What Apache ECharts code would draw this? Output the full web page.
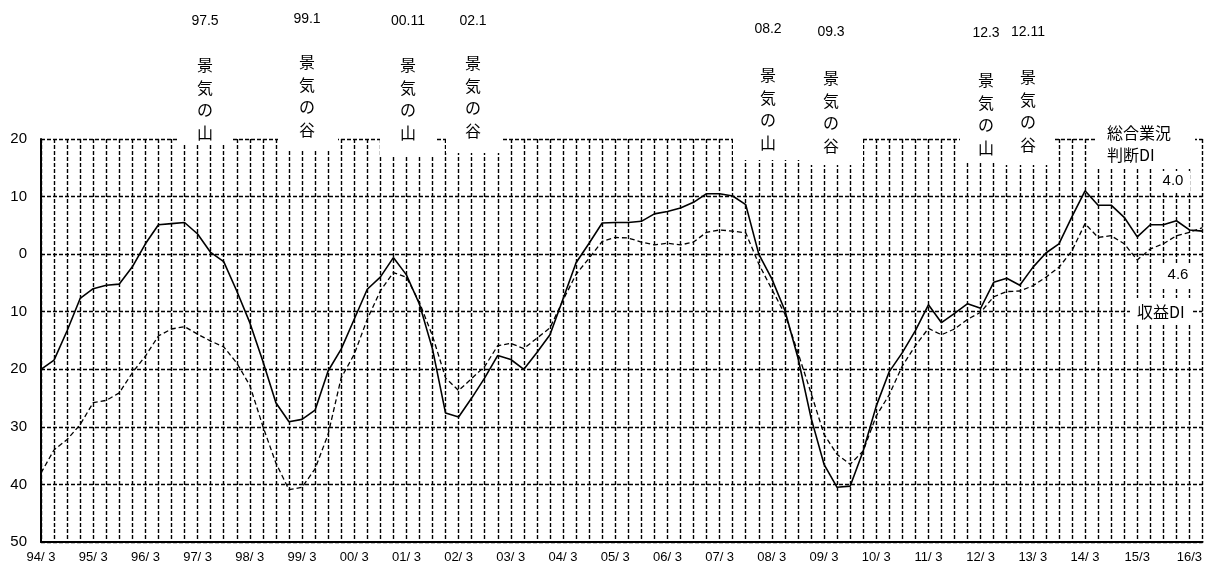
<!DOCTYPE html>
<html>
<head>
<meta charset="utf-8">
<script src="https://cdn.jsdelivr.net/npm/echarts@6/dist/echarts.min.js"></script>
<style>
  html, body { margin: 0; padding: 0; background: #fff; }
  #chart { width: 1207px; height: 567px; }
</style>
</head>
<body>
<div id="chart"></div>
<script>
// Quarterly survey, 94/3 through 16/6
const years = ['94','95','96','97','98','99','00','01','02','03','04','05','06','07','08','09','10','11','12','13','14','15','16'];
const months = ['3','6','9','12'];
const categories = [];
years.forEach(function (y) {
  months.forEach(function (m) {
    if (!(y === '16' && (m === '9' || m === '12'))) categories.push(y + '/' + m);
  });
});

// Labels shown under every March tick
const tickLabels = ['94/ 3','95/ 3','96/ 3','97/ 3','98/ 3','99/ 3','00/ 3','01/ 3','02/ 3','03/ 3','04/ 3',
  '05/ 3','06/ 3','07/ 3','08/ 3','09/ 3','10/ 3','11/ 3','12/ 3','13/ 3','14/ 3','15/3','16/3'];

// 総合業況判断DI
const businessDI = [
  -20.0, -18.4, -13.3, -7.7, -6.0, -5.4, -5.2, -2.2, 1.8, 5.1,
  5.3, 5.5, 3.5, 0.3, -1.3, -6.4, -11.9, -18.6, -25.8, -29.1,
  -28.7, -27.1, -20.3, -16.5, -11.3, -6.1, -4.0, -0.6, -3.6, -8.7,
  -16.5, -27.6, -28.3, -25.0, -21.5, -17.6, -18.3, -20.0, -17.1, -14.0,
  -7.8, -1.5, 1.9, 5.4, 5.5, 5.5, 5.7, 7.0, 7.4, 8.0,
  9.0, 10.5, 10.5, 10.1, 8.6, 0.0, -4.3, -9.8, -18.0, -28.4,
  -36.5, -40.5, -40.3, -34.2, -26.4, -20.4, -17.1, -13.3, -8.8, -11.9,
  -10.3, -8.6, -9.4, -4.9, -4.2, -5.4, -2.3, 0.2, 1.8, 6.5,
  11.0, 8.5, 8.5, 6.4, 3.0, 5.1, 5.1, 5.8, 4.2, 4.0
];

// 収益DI
const profitDI = [
  -38.0, -34.0, -32.2, -29.6, -25.8, -25.4, -24.1, -20.6, -17.7, -14.2,
  -13.0, -12.6, -13.9, -15.1, -16.1, -18.9, -22.8, -29.9, -36.3, -40.9,
  -40.5, -37.3, -31.3, -21.5, -17.4, -11.3, -6.4, -3.2, -4.0, -8.4,
  -14.2, -21.5, -23.7, -21.6, -19.5, -15.9, -15.5, -16.4, -14.6, -12.8,
  -8.0, -3.5, -0.7, 2.2, 2.9, 2.8, 2.1, 1.6, 1.9, 1.6,
  2.1, 3.8, 4.2, 4.0, 3.7, -1.7, -6.1, -10.4, -17.1, -24.1,
  -31.3, -34.8, -36.5, -34.2, -28.1, -24.4, -19.4, -15.9, -12.9, -14.0,
  -13.0, -11.3, -10.1, -7.4, -6.5, -6.4, -5.5, -4.0, -2.3, 0.6,
  5.3, 2.9, 3.2, 1.8, -1.0, 0.9, 1.8, 3.2, 3.8, 4.6
];

// Business-cycle turning points
const turnDates = ['97.5', '99.1', '00.11', '02.1', '08.2', '09.3', '12.3', '12.11'];
const turnKinds = ['景気の山', '景気の谷', '景気の山', '景気の谷', '景気の山', '景気の谷', '景気の山', '景気の谷'];

// Box layout for each turning-point caption: [left, right, bottom, centerX, dateY, firstCharY]
const turnBoxes = [
  [178, 232, 144, 205, 21, 65],
  [278, 338, 151, 307, 19, 62],
  [380, 437, 155, 408, 21, 65],
  [446, 502, 153, 473, 21, 63],
  [733, 805, 160, 768, 29, 75],
  [805, 863, 165, 831, 32, 78],
  [960, 1005, 162, 986, 33, 80],
  [1005, 1053, 165, 1028, 32, 77]
];

const NUM_FONT = '"Liberation Sans", Arial, sans-serif';
const JP_FONT = '"Noto Sans CJK JP", "Liberation Sans", sans-serif';

const graphics = [];
turnDates.forEach(function (d, i) {
  const b = turnBoxes[i];
  graphics.push({
    type: 'rect', z: 100,
    shape: { x: b[0], y: 0, width: b[1] - b[0], height: b[2] },
    style: { fill: '#fff' }
  });
  graphics.push({
    type: 'text', z: 101, x: b[3], y: b[4],
    style: { text: d, font: '14px ' + NUM_FONT, fill: '#000', align: 'center', verticalAlign: 'middle' }
  });
  graphics.push({
    type: 'text', z: 101, x: b[3], y: b[5] - 11.5,
    style: {
      text: turnKinds[i].split('').join('\n'),
      font: '16px ' + JP_FONT, lineHeight: 22.7,
      fill: '#000', align: 'center', verticalAlign: 'top'
    }
  });
});

// Series captions on the right
function box(x, y, w, h) {
  return { type: 'rect', z: 100, shape: { x: x, y: y, width: w, height: h }, style: { fill: '#fff' } };
}
function label(text, x, y, align, size) {
  return {
    type: 'text', z: 101, x: x, y: y,
    style: { text: text, font: size + 'px ' + JP_FONT, fill: '#000', align: align, verticalAlign: 'middle' }
  };
}
graphics.push(box(1097, 118, 98, 50));
graphics.push(label('総合業況', 1107, 133, 'left', 16));
graphics.push(label('判断DI', 1107, 155, 'left', 16));
graphics.push(box(1158, 171, 32, 21));
graphics.push({
  type: 'text', z: 101, x: 1173, y: 181,
  style: { text: businessDI[businessDI.length - 1].toFixed(1), font: '15px ' + NUM_FONT, fill: '#000', align: 'center', verticalAlign: 'middle' }
});
graphics.push(box(1161, 265, 32, 22));
graphics.push({
  type: 'text', z: 101, x: 1178, y: 275,
  style: { text: profitDI[profitDI.length - 1].toFixed(1), font: '15px ' + NUM_FONT, fill: '#000', align: 'center', verticalAlign: 'middle' }
});
graphics.push(box(1130, 298, 63, 27));
graphics.push(label('収益DI', 1137, 312, 'left', 16));

const gridLine = { color: '#000', width: 1.4, type: [4, 2] };

const chart = echarts.init(document.getElementById('chart'), null, { renderer: 'canvas' });
chart.setOption({
  animation: false,
  backgroundColor: '#fff',
  grid: { left: 41, right: 4.5, top: 139, bottom: 25, containLabel: false },
  xAxis: {
    type: 'category',
    data: categories,
    boundaryGap: false,
    axisLine: { onZero: false, lineStyle: { color: '#000', width: 2 } },
    axisTick: { show: false },
    axisLabel: {
      interval: 0,
      margin: 9,
      color: '#000',
      fontSize: 13,
      fontFamily: NUM_FONT,
      formatter: function (v, i) { return i % 4 === 0 ? tickLabels[i / 4] : ''; }
    },
    splitLine: { show: true, interval: 0, lineStyle: gridLine }
  },
  yAxis: {
    type: 'value',
    min: -50,
    max: 20,
    interval: 10,
    axisLine: { show: true, onZero: false, lineStyle: { color: '#000', width: 2 } },
    axisTick: { show: false },
    axisLabel: {
      margin: 14,
      color: '#000',
      fontSize: 15,
      fontFamily: NUM_FONT,
      formatter: function (v) { return String(Math.abs(v)); }
    },
    splitLine: { show: true, lineStyle: gridLine }
  },
  series: [
    {
      name: '収益DI',
      type: 'line',
      data: profitDI,
      showSymbol: false,
      z: 3,
      lineStyle: { color: '#000', width: 1.3, type: [5, 3] }
    },
    {
      name: '総合業況判断DI',
      type: 'line',
      data: businessDI,
      showSymbol: false,
      z: 4,
      lineStyle: { color: '#000', width: 1.6 }
    }
  ],
  graphic: graphics
});
</script>
</body>
</html>
